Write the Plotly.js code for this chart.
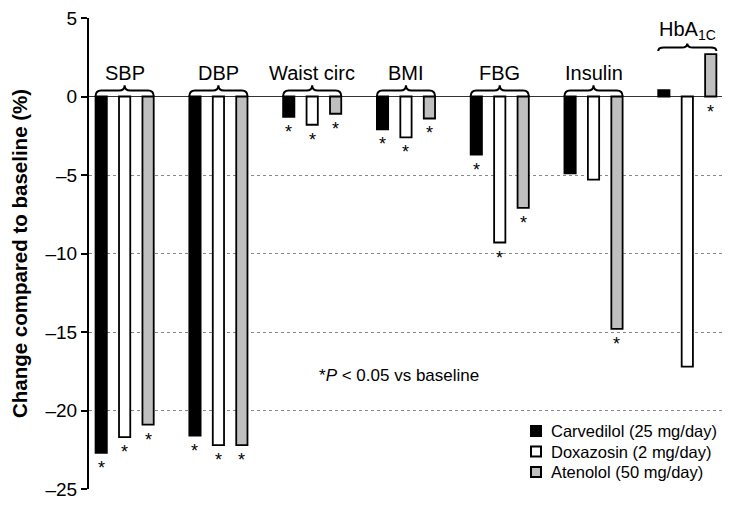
<!DOCTYPE html>
<html>
<head>
<meta charset="utf-8">
<script src="https://cdn.plot.ly/plotly-3.0.1.min.js"></script>
<style>html,body{margin:0;padding:0;background:#fff;}#chart{width:735px;height:510px;}</style>
</head>
<body>
<div id="chart"></div>
<script>
// Data
var groups = ['SBP', 'DBP', 'Waist circ', 'BMI', 'FBG', 'Insulin', 'HbA<sub>1C</sub>'];
var seriesNames = ['Carvedilol (25 mg/day)', 'Doxazosin (2 mg/day)', 'Atenolol (50 mg/day)'];
var carvedilol = [-22.7, -21.6, -1.3, -2.1, -3.7, -4.9, 0.4];
var doxazosin  = [-21.7, -22.2, -1.8, -2.6, -9.3, -5.3, -17.2];
var atenolol   = [-20.9, -22.2, -1.1, -1.4, -7.1, -14.8, 2.7];
var sigCarvedilol = [1, 1, 1, 1, 1, 0, 0];
var sigDoxazosin  = [1, 1, 1, 1, 1, 0, 0];
var sigAtenolol   = [1, 1, 1, 1, 1, 1, 1];
var yTicks = [5, 0, -5, -10, -15, -20, -25];
var noteText = '*<i>P</i> < 0.05 vs baseline';

var FONT = 'Arial, "Liberation Sans", Helvetica, sans-serif';
var idx = groups.map(function (g, i) { return i; });
var allSeries = [carvedilol, doxazosin, atenolol];
var allSig = [sigCarvedilol, sigDoxazosin, sigAtenolol];
var fills = ['#000000', '#ffffff', '#bfbfbf'];
var offsets = [-0.25, 0, 0.25];

var traces = allSeries.map(function (vals, k) {
  return {
    type: 'bar', x: idx, y: vals, name: seriesNames[k], showlegend: false,
    marker: { color: fills[k], line: { color: '#000', width: 1.8 } },
    hoverinfo: 'skip'
  };
});

var shapes = [], annotations = [];

// significance asterisks
allSeries.forEach(function (vals, k) {
  vals.forEach(function (v, i) {
    if (allSig[k][i]) {
      annotations.push({ x: i + offsets[k], y: Math.min(v, 0), xref: 'x', yref: 'y', text: '*',
        showarrow: false, yanchor: 'top', yshift: -3,
        font: { family: FONT, size: 18, color: '#000' } });
    }
  });
});

// braces + group labels
function brace(cx, hw, yb, ym, yt) {
  var r = 0.06, x0 = cx - hw, x1 = cx + hw;
  return 'M ' + x0 + ',' + yb + ' Q ' + x0 + ',' + ym + ' ' + (x0 + r) + ',' + ym +
    ' L ' + (cx - r) + ',' + ym + ' Q ' + cx + ',' + ym + ' ' + cx + ',' + yt +
    ' Q ' + cx + ',' + ym + ' ' + (cx + r) + ',' + ym +
    ' L ' + (x1 - r) + ',' + ym + ' Q ' + x1 + ',' + ym + ' ' + x1 + ',' + yb;
}
groups.forEach(function (g, i) {
  var last = (i === groups.length - 1);
  var yb = last ? 2.9 : 0.0, ym = last ? 3.12 : 0.38, yt = last ? 3.38 : 0.72;
  shapes.push({ type: 'path', xref: 'x', yref: 'y', path: brace(i, 0.31, yb, ym, yt),
    line: { color: '#000', width: 2 } });
  annotations.push({ x: i, y: last ? 3.3 : 0.7, xref: 'x', yref: 'y', text: g, showarrow: false,
    yanchor: 'bottom', font: { family: FONT, size: 20, color: '#000' } });
});
annotations.push({ x: 2.93, y: -17.8, xref: 'x', yref: 'y', text: noteText, showarrow: false,
  font: { family: FONT, size: 17, color: '#000' } });

// legend (drawn as key squares + labels)
var PL = 89, PW = 633, PT = 18, PH = 471;
function px(x) { return (x - PL) / PW; }
function py(y) { return 1 - (y - PT) / PH; }
var legRows = [431, 451.5, 472];
seriesNames.forEach(function (n, k) {
  var cy = legRows[k];
  shapes.push({ type: 'rect', xref: 'paper', yref: 'paper',
    x0: px(531), x1: px(541), y0: py(cy + 5), y1: py(cy - 5),
    fillcolor: fills[k], line: { color: '#000', width: 2 } });
  annotations.push({ xref: 'paper', yref: 'paper', x: px(549), y: py(cy), text: n,
    xanchor: 'left', yanchor: 'middle', showarrow: false,
    font: { family: FONT, size: 16.5, color: '#000' } });
});

var layout = {
  width: 735, height: 510,
  margin: { l: PL, r: 735 - PL - PW, t: PT, b: 510 - PT - PH },
  paper_bgcolor: '#fff', plot_bgcolor: '#fff',
  font: { family: FONT, color: '#000' },
  barmode: 'group', bargap: 0.25, bargroupgap: 0.52,
  showlegend: false,
  xaxis: { range: [-0.38, 6.37], showgrid: false, zeroline: false, showline: false,
    showticklabels: false, ticks: '', fixedrange: true },
  yaxis: {
    range: [-25, 5], tickvals: yTicks, ticktext: yTicks.map(function (v) { return v < 0 ? '\u2013' + Math.abs(v) : String(v); }),
    showgrid: true, gridcolor: '#888', griddash: 'dot', gridwidth: 1,
    zeroline: true, zerolinecolor: '#333', zerolinewidth: 1.2,
    showline: true, linecolor: '#000', linewidth: 2,
    ticks: 'outside', ticklen: 6, tickwidth: 2, tickcolor: '#000',
    tickfont: { family: FONT, size: 19, color: '#000' },
    title: { text: '<b>Change compared to baseline (%)</b>', font: { family: FONT, size: 20.5, color: '#000' }, standoff: 12 }
  },
  shapes: shapes, annotations: annotations
};

Plotly.newPlot('chart', traces, layout, { displayModeBar: false, staticPlot: true });
</script>
</body>
</html>
